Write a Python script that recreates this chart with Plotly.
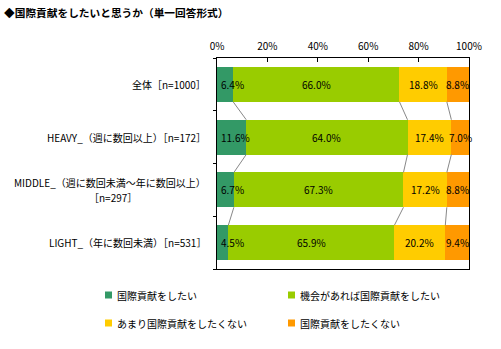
import plotly.graph_objects as go

# Survey: would you like to contribute internationally? (single answer)
title_text = "◆国際貢献をしたいと思うか（単一回答形式）"
categories = [
    "全体［n=1000］",
    "HEAVY_（週に数回以上）［n=172］",
    "MIDDLE_（週に数回未満～年に数回以上）<br>［n=297］",
    "LIGHT_（年に数回未満）［n=531］",
]
series_names = [
    "国際貢献をしたい",
    "機会があれば国際貢献をしたい",
    "あまり国際貢献をしたくない",
    "国際貢献をしたくない",
]
want = [6.4, 11.6, 6.7, 4.5]
if_chance = [66.0, 64.0, 67.3, 65.9]
not_much = [18.8, 17.4, 17.2, 20.2]
not_want = [8.8, 7.0, 8.8, 9.4]
x_ticks = [0, 20, 40, 60, 80, 100]

colors = ["#339966", "#99CC00", "#FFCC00", "#FF9900"]
series_values = [want, if_chance, not_much, not_want]

FONT = "Noto Sans CJK JP"
BAR_W = 0.66
rows = list(range(len(categories)))

fig = go.Figure()

for name, vals, col in zip(series_names, series_values, colors):
    fig.add_trace(go.Bar(
        y=rows, x=vals, orientation="h", name=name,
        marker=dict(color=col, line=dict(width=0)),
        width=BAR_W, showlegend=False, hoverinfo="skip",
    ))

# cumulative segment edges per row
starts, ends = [], []
for i in rows:
    acc, s_row, e_row = 0.0, [], []
    for vals in series_values:
        s_row.append(acc)
        acc += vals[i]
        e_row.append(acc)
    starts.append(s_row)
    ends.append(e_row)

# series connector lines between the segment edges of neighbouring bars
lx, ly = [], []
for i in rows[:-1]:
    for k in range(len(series_values) - 1):
        lx += [ends[i][k], ends[i + 1][k], None]
        ly += [i + BAR_W / 2, i + 1 - BAR_W / 2, None]
fig.add_trace(go.Scatter(x=lx, y=ly, mode="lines",
                         line=dict(color="#888888", width=1),
                         showlegend=False, hoverinfo="skip"))

value_font = dict(family=FONT, size=10, color="black")
# value labels drawn above the bars; the narrow first segment keeps its
# label just inside the left edge of the frame
for k, vals in enumerate(series_values):
    for i in rows:
        if k == 0:
            fig.add_annotation(x=starts[i][k], y=i, xref="x", yref="y",
                               text=f"{vals[i]:.1f}%", xanchor="left",
                               xshift=2, showarrow=False, font=value_font)
        else:
            fig.add_annotation(x=(starts[i][k] + ends[i][k]) / 2, y=i,
                               xref="x", yref="y", text=f"{vals[i]:.1f}%",
                               xanchor="center", showarrow=False,
                               font=value_font)

plot_l, plot_r, plot_t, plot_b = 217, 469, 58, 269
pw, ph = plot_r - plot_l, plot_b - plot_t
label_font = dict(family=FONT, size=10, color="black")

# category labels, right-aligned beside the frame; a wrapped label keeps
# its second line centred under the first
for i, cat in enumerate(categories):
    lines = cat.split("<br>")
    if len(lines) == 1:
        fig.add_annotation(x=0, xref="paper", y=i, yref="y", text=cat,
                           xanchor="right", yanchor="middle", xshift=-9,
                           showarrow=False, font=label_font)
    else:
        first_w = 190
        fig.add_annotation(x=0, xref="paper", y=i, yref="y", text=lines[0],
                           xanchor="right", yanchor="middle", xshift=-9,
                           yshift=7.5, showarrow=False, font=label_font)
        fig.add_annotation(x=0, xref="paper", y=i, yref="y", text=lines[1],
                           xanchor="center", yanchor="middle",
                           xshift=-9 - first_w / 2, yshift=-7.5,
                           showarrow=False, font=label_font)

# legend laid out in two columns below the plot
leg_pos = [(105, 295), (288, 295), (105, 323), (288, 323)]
for (px, py), name, col in zip(leg_pos, series_names, colors):
    x0 = (px - plot_l) / pw
    x1 = (px + 7 - plot_l) / pw
    yc = (plot_b - py) / ph
    fig.add_shape(type="rect", xref="paper", yref="paper",
                  x0=x0, x1=x1, y0=yc - 3.5 / ph, y1=yc + 3.5 / ph,
                  fillcolor=col, line=dict(width=0))
    fig.add_annotation(
        x=(px + 10 - plot_l) / pw, xref="paper", y=yc, yref="paper",
        text=name, xanchor="left", yanchor="middle", showarrow=False,
        font=label_font,
    )

fig.update_layout(
    width=501, height=349,
    margin=dict(l=plot_l, r=501 - plot_r, t=plot_t, b=349 - plot_b, pad=0),
    paper_bgcolor="white", plot_bgcolor="white",
    barmode="stack",
    showlegend=False,
    title=dict(text=title_text, x=4 / 501, xanchor="left", xref="container",
               y=1 - 13 / 349, yanchor="middle", yref="container",
               font=dict(family=FONT, size=10.7, color="black", weight="bold")),
    xaxis=dict(
        side="top", range=[0, 100], tickvals=x_ticks,
        ticktext=[f"{t}%" for t in x_ticks],
        ticks="inside", ticklen=4, tickcolor="black",
        ticklabelstandoff=3,
        showline=True, linecolor="black", linewidth=1, mirror=True,
        showgrid=False, zeroline=False, fixedrange=True,
        tickfont=dict(family=FONT, size=10, color="black"),
    ),
    yaxis=dict(
        range=[len(categories) - 0.5, -0.5], showticklabels=False,
        tickvals=rows, ticks="",
        minor=dict(tickmode="linear", tick0=-0.5, dtick=1, ticks="outside",
                   ticklen=3, tickcolor="black", showgrid=False),
        showline=True, linecolor="black", linewidth=1, mirror=True,
        showgrid=False, zeroline=False, fixedrange=True,
    ),
)

fig.write_html("out.html")
